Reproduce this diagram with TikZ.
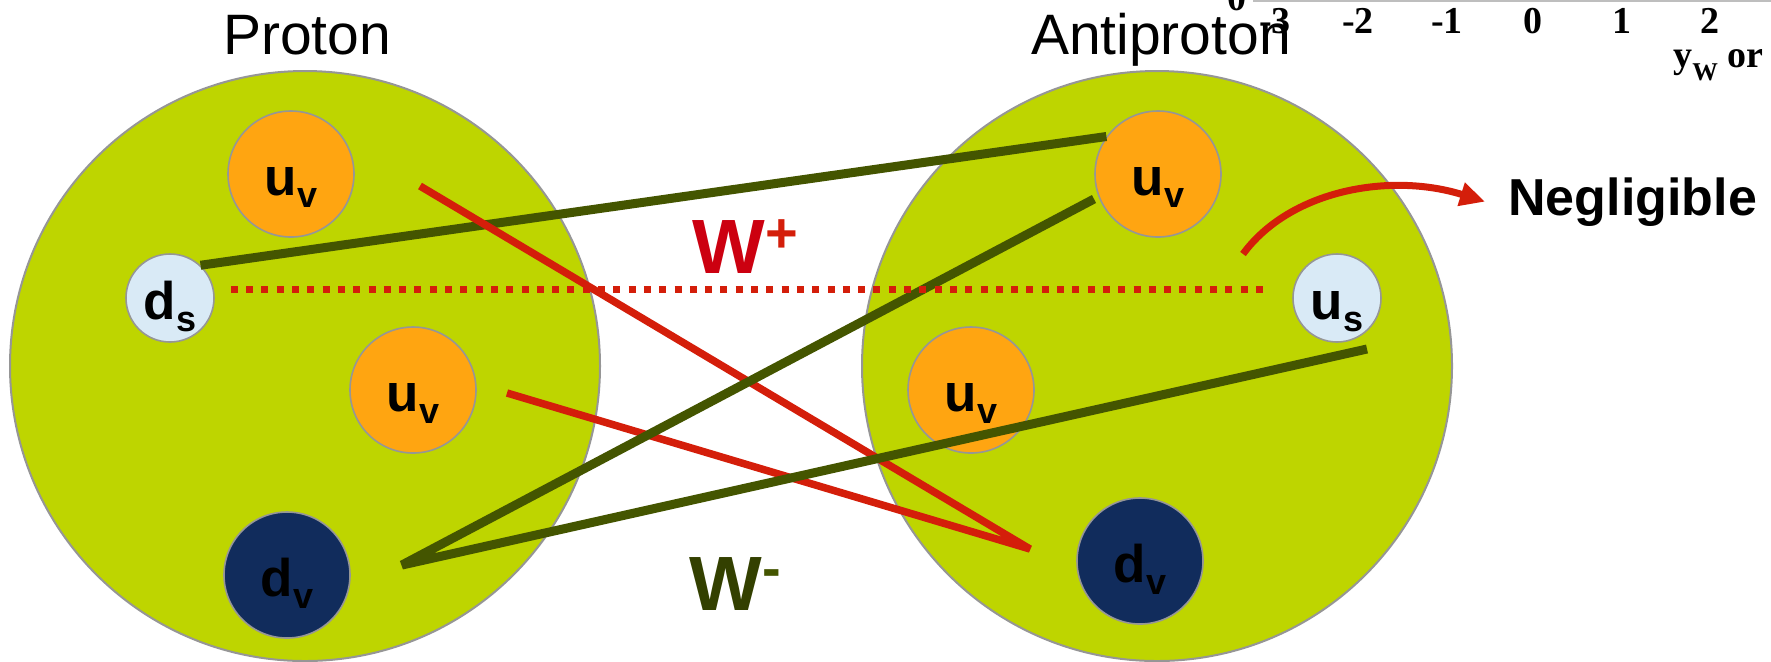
\documentclass[tikz,border=0pt]{standalone}
\usepackage{fontspec}
\setmainfont{Liberation Sans}
\newfontfamily\tmsfont{Liberation Serif}
\usetikzlibrary{arrows.meta}
\definecolor{ygreen}{RGB}{190,213,0}
\definecolor{qorange}{RGB}{255,165,17}
\definecolor{qblue}{RGB}{217,234,246}
\definecolor{qnavy}{RGB}{17,44,92}
\definecolor{edgegray}{RGB}{150,150,150}
\definecolor{wgreen}{RGB}{68,85,0}
\definecolor{wred}{RGB}{212,30,10}
\definecolor{wpcol}{RGB}{204,0,16}
\definecolor{wmcol}{RGB}{51,64,0}
\definecolor{axisgray}{RGB}{190,190,190}
\newcommand\qk[2]{{\fontsize{26.5pt}{28pt}\selectfont #1}{\fontsize{18pt}{20pt}\selectfont\raisebox{-6pt}{#2}}}
\begin{document}
\begin{tikzpicture}[x=0.5pt,y=-0.5pt,
  hadron/.style={circle, draw=edgegray, line width=1pt, fill=ygreen, minimum size=295pt, inner sep=0pt},
  title/.style={anchor=base, inner sep=0pt, font=\fontsize{28.5pt}{30pt}\selectfont},
  quark/.style={circle, draw=edgegray, line width=0.8pt, inner sep=0pt, font=\bfseries, text height=27pt, text depth=6pt},
  valence/.style={quark, fill=qorange, minimum size=63pt},
  sea/.style={quark, fill=qblue, minimum size=44pt},
  dval/.style={quark, fill=qnavy, minimum size=63pt},
  gline/.style={draw=wgreen, line width=4.5pt, line join=bevel},
  rline/.style={draw=wred, line width=3.75pt, line join=bevel},
  wlab/.style={anchor=base west, inner sep=0pt, font=\bfseries\fontsize{38.5pt}{40pt}\selectfont},
  axnum/.style={anchor=base, inner sep=0pt, font=\tmsfont\bfseries\fontsize{19pt}{20pt}\selectfont}
]
\useasboundingbox (0,0) rectangle (1771,661);
\clip (0,0) rectangle (1771,661);

% hadrons
\node[hadron] (P) at (305,366) {};
\node[hadron] (A) at (1157,366) {};
\node[title] (Pt) at (307,54) {Proton};
\node[title] (At) at (1161,54) {Antiproton};

% free ends of connectors
\coordinate (r1s) at (420,186);
\coordinate (rv) at (1030,549);
\coordinate (r2s) at (507,393);
\coordinate (g2s) at (1094,199);
\coordinate (gv) at (402,565);
\coordinate (g3e) at (1367,349);
\coordinate (negs) at (1243,254);

% quarks
\node[valence] (pu1) at (291,174) {\qk{u}{v}};
\node[sea] (pds) at (170,298) {\qk{d}{s}};
\node[valence] (pu2) at (413,390) {\qk{u}{v}};
\node[dval] (pdv) at (287,575) {\qk{d}{v}};
\node[valence] (au1) at (1158,174) {\qk{u}{v}};
\node[sea] (aus) at (1337,298) {\qk{u}{s}};
\node[valence] (au2) at (971,390) {\qk{u}{v}};
\node[dval] (adv) at (1140,561) {\qk{d}{v}};

% connectors
\draw[gline] (pds.47) -- (au1.144);
\draw[rline] (r1s) -- (rv) -- (r2s);
\draw[gline] (g2s) -- (gv) -- (g3e);
\draw[draw=wred, line width=3.5pt, dash pattern=on 3.5pt off 4.15pt]
  ([shift={(16,-9)}]pds.east) -- ([shift={(-22,-9)}]aus.west);

% negligible
\node[anchor=base west, inner xsep=11.5pt, inner ysep=0pt, font=\bfseries\fontsize{26pt}{28pt}\selectfont] (neg) at (1485,215) {Negligible};
\draw[draw=wred, line width=3.5pt, -{Triangle[length=12.5pt,width=11.5pt]}]
  (negs) .. controls (1290,190) and (1390,172) .. (neg.west);

% W labels
\node[wlab] (wp) at (692,273) {\textcolor{wpcol}{W}\textcolor{wred}{\raisebox{10.5pt}{\fontsize{28pt}{30pt}\selectfont +}}};
\node[wlab] (wm) at (689,610) {\textcolor{wmcol}{W}\textcolor{wgreen}{\raisebox{11.5pt}{\fontsize{28pt}{30pt}\selectfont -}}};

% axis fragment
\draw[axisgray, line width=1pt] (1253,1) -- (1771,1);
\node[axnum] (ax0t) at (1237,10) {0};
\node[axnum] (axa) at (1275,33) {-3};
\node[axnum] (axb) at (1358,33) {-2};
\node[axnum] (axc) at (1447,33) {-1};
\node[axnum] (axd) at (1533,33) {0};
\node[axnum] (axe) at (1622,33) {1};
\node[axnum] (axf) at (1710,33) {2};
\node[anchor=base west, inner sep=0pt, font=\tmsfont\bfseries\fontsize{19pt}{20pt}\selectfont] (yw) at (1673,67) {y\raisebox{-6.5pt}{\fontsize{12.8pt}{13pt}\selectfont W} or};
\end{tikzpicture}
\end{document}
